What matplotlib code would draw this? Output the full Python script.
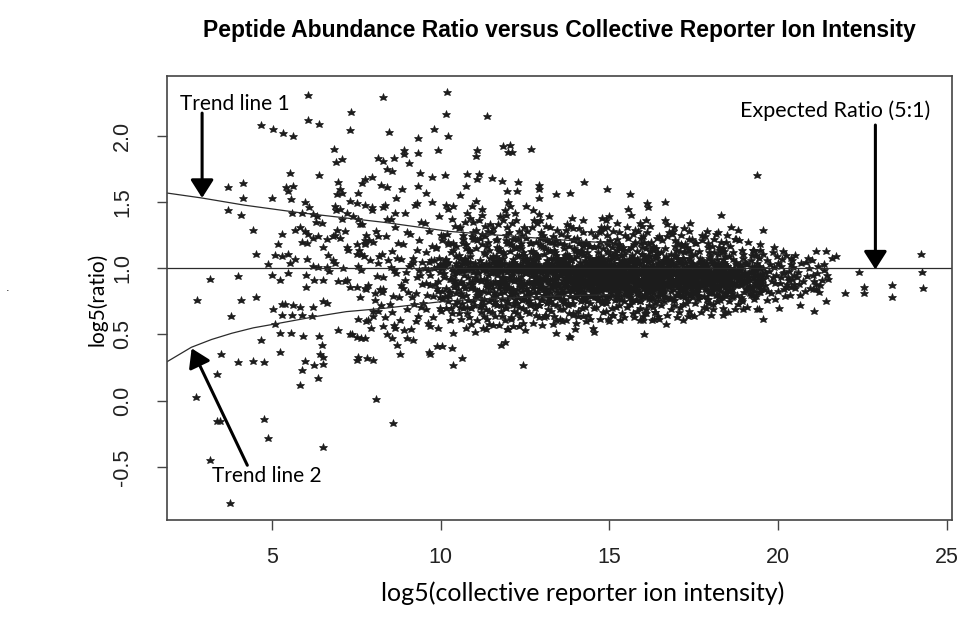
import numpy as np
import matplotlib.pyplot as plt

# fitted trend curves (upper and lower)
trend1_x = [1.89, 2.91, 4.20, 5.78, 8.35, 10.27, 13.53, 15.00]
trend1_y = [1.567, 1.530, 1.475, 1.420, 1.345, 1.277, 1.214, 1.190]
trend2_x = [1.89, 2.61, 3.21, 3.81, 4.45, 5.09, 6.27, 7.20, 8.35, 10.17, 11.56, 13.53, 15.00]
trend2_y = [0.294, 0.403, 0.462, 0.509, 0.550, 0.579, 0.634, 0.672, 0.698, 0.752, 0.773, 0.790, 0.800]

expected_ratio = 1.0

# sparse peptides, low intensity end
sparse_left = [
    (3.70, 1.61), (4.13, 1.64), (4.13, 1.53), (3.70, 1.44), (4.07, 1.40), (4.67, 2.08), (5.04, 2.05),
    (5.33, 2.02), (5.61, 2.00), (3.16, 0.92), (4.00, 0.94), (2.77, 0.76), (4.07, 0.76), (4.52, 0.78),
    (3.79, 0.64), (3.36, 0.20), (2.76, 0.03), (3.36, -0.15), (3.45, -0.15), (3.16, -0.45), (3.77, -0.77),
    (4.77, -0.14), (4.89, -0.28), (3.49, 0.35), (3.98, 0.29), (4.45, 0.30), (4.77, 0.29), (4.45, 1.29),
    (4.52, 1.11), (4.88, 1.03), (4.99, 0.95), (4.67, 0.46), (4.99, 1.53),
]

sparse_mid = [
    (6.08, 2.31), (7.33, 2.18), (6.08, 2.12), (6.39, 2.09), (7.31, 2.04), (6.85, 1.90), (6.89, 1.80),
    (7.09, 1.82), (5.53, 1.72), (6.39, 1.70), (5.41, 1.61), (5.63, 1.62), (5.48, 1.58), (5.56, 1.52),
    (5.98, 1.50), (6.09, 1.46), (5.58, 1.42), (5.88, 1.42), (6.96, 1.65), (7.01, 1.60), (6.94, 1.56),
    (7.09, 1.57), (7.66, 1.64), (7.75, 1.67), (7.95, 1.69), (8.15, 1.83), (8.30, 1.81), (7.56, 1.57),
    (7.31, 1.51), (7.51, 1.49), (6.90, 1.44), (6.22, 1.41), (6.30, 1.35), (6.47, 1.34), (7.75, 1.48),
    (7.95, 1.46), (7.56, 1.37), (8.30, 2.29), (6.32, 1.39), (6.87, 1.47), (7.01, 1.45), (7.21, 1.42),
    (7.41, 1.39), (7.07, 1.37), (6.92, 1.29), (6.82, 1.24), (7.16, 1.28), (7.61, 1.33), (7.80, 1.25),
    (8.00, 1.20), (7.21, 1.16), (7.51, 1.11), (7.75, 1.18), (6.52, 1.16), (6.67, 1.10), (6.82, 1.06),
    (6.22, 1.02), (6.62, 1.01), (7.16, 0.90), (7.51, 0.86), (7.80, 0.84), (8.10, 0.94), (8.30, 0.84),
    (5.29, 1.26), (5.19, 1.18), (5.67, 1.29), (5.83, 1.31), (5.98, 1.28), (6.08, 1.26), (5.08, 1.10),
    (5.31, 1.09), (5.53, 1.04), (5.67, 1.07), (6.05, 1.07), (5.88, 1.20), (6.03, 1.19), (6.22, 1.23),
    (6.37, 1.24), (6.62, 1.22), (5.47, 1.11), (5.24, 0.91), (5.47, 0.96), (6.00, 0.95), (6.37, 1.01),
    (6.70, 0.98), (6.25, 0.91), (6.52, 0.91), (6.01, 0.86), (5.04, 0.69), (5.29, 0.73), (5.39, 0.73),
    (5.63, 0.72), (5.83, 0.71), (5.29, 0.65), (5.58, 0.65), (5.88, 0.65), (6.22, 0.71), (6.52, 0.75),
    (6.62, 0.74), (6.18, 0.64), (5.08, 0.58), (5.24, 0.51), (5.56, 0.51), (5.91, 0.49), (6.39, 0.49),
    (5.24, 0.37), (6.47, 0.42), (6.42, 0.35), (6.52, 0.33), (5.98, 0.30), (6.25, 0.27), (6.52, 0.28),
    (5.88, 0.23), (5.83, 0.12), (6.35, 0.17), (6.52, -0.35), (8.07, 0.01), (8.59, -0.17),
    (6.87, 1.25), (7.01, 1.23), (7.26, 1.14), (7.51, 1.18), (7.65, 1.11), (7.75, 1.21), (7.90, 1.06),
    (8.15, 1.24), (8.25, 1.11), (6.87, 1.04), (7.11, 1.00), (6.96, 0.90), (7.21, 0.91), (7.31, 0.86),
    (7.75, 0.85), (8.05, 0.76), (7.56, 0.62), (7.85, 0.61), (8.00, 0.64), (7.36, 0.50), (7.65, 0.47),
    (8.20, 0.84), (8.15, 0.68), (6.96, 0.53), (7.31, 0.50), (7.51, 0.48), (7.75, 0.47), (7.56, 0.33),
    (7.81, 0.32), (7.53, 0.31), (8.00, 0.31),
]

sparse_upper = [
    (10.19, 2.33), (10.17, 2.16), (11.38, 2.15), (8.48, 2.03), (9.80, 2.05), (10.23, 2.00), (9.32, 1.98),
    (9.91, 1.89), (8.91, 1.89), (8.91, 1.86), (9.32, 1.87), (8.62, 1.83), (9.05, 1.79), (8.42, 1.75),
    (8.56, 1.73), (11.09, 1.89), (11.04, 1.85), (11.84, 1.92), (12.05, 1.93), (12.00, 1.88), (12.11, 1.88),
    (12.69, 1.90), (9.39, 1.72), (9.73, 1.69), (10.13, 1.70), (10.77, 1.71), (10.74, 1.62), (11.13, 1.71),
    (11.09, 1.67), (11.53, 1.68), (11.82, 1.66), (12.30, 1.65), (12.27, 1.58), (11.96, 1.58), (12.90, 1.63),
    (12.90, 1.60), (12.90, 1.53), (13.41, 1.56), (13.83, 1.57), (14.26, 1.65), (9.32, 1.62), (8.86, 1.60),
    (8.40, 1.61), (8.23, 1.63), (9.56, 1.57), (8.69, 1.53), (9.29, 1.49), (9.73, 1.50), (10.17, 1.48),
    (10.35, 1.47), (10.56, 1.55), (11.04, 1.51), (12.00, 1.50), (12.05, 1.47), (12.54, 1.47), (12.72, 1.44),
    (8.35, 1.48), (8.30, 1.46), (8.64, 1.42),
    (19.36, 1.70), (14.92, 1.60), (15.61, 1.56), (16.10, 1.49), (16.15, 1.46), (16.66, 1.50), (15.56, 1.45),
    (15.63, 1.40), (14.79, 1.38), (15.00, 1.39), (16.08, 1.36), (15.95, 1.32), (16.64, 1.36), (16.71, 1.33),
    (16.87, 1.28), (17.39, 1.34), (17.37, 1.28), (17.37, 1.22), (18.30, 1.40), (18.59, 1.31), (18.80, 1.29),
    (19.54, 1.29), (18.17, 1.26), (18.47, 1.25), (18.73, 1.22), (18.32, 1.20), (18.37, 1.15), (19.89, 1.16),
    (20.14, 1.13), (20.49, 1.10), (20.39, 1.08), (20.83, 1.05), (19.26, 1.14), (19.45, 1.14), (19.55, 1.11),
    (14.93, 1.31), (14.76, 1.28), (15.29, 1.27), (15.53, 1.31), (15.76, 1.20), (16.00, 1.24), (16.40, 1.23),
    (17.73, 1.21), (17.12, 1.18), (17.53, 1.19),
]

sparse_right = [
    (24.23, 1.11), (24.25, 0.97), (24.30, 0.85), (22.40, 0.97), (22.55, 0.86), (22.55, 0.81), (23.36, 0.87),
    (23.36, 0.78), (21.99, 0.81), (21.13, 1.13), (21.43, 1.13), (21.60, 1.08), (21.72, 1.09), (21.18, 1.02),
    (21.43, 0.75), (21.13, 0.84), (21.04, 0.84), (20.94, 0.85), (21.06, 0.68), (20.64, 0.72), (20.03, 0.70),
    (19.54, 0.62), (19.38, 0.69), (18.96, 0.69), (19.68, 0.76),
]

sparse_lower = [
    (18.35, 0.65), (18.51, 0.67), (17.85, 0.70), (17.50, 0.64), (17.19, 0.61), (16.69, 0.58), (16.47, 0.62),
    (16.25, 0.61), (15.92, 0.61), (16.02, 0.50), (14.52, 0.55), (14.55, 0.52), (13.98, 0.54), (13.81, 0.49),
    (13.41, 0.51), (13.13, 0.64), (13.53, 0.62), (13.58, 0.60), (13.93, 0.65), (14.22, 0.64), (15.71, 0.66),
    (16.05, 0.66), (16.35, 0.67), (15.11, 0.65), (12.45, 0.27), (10.37, 0.27), (10.62, 0.32), (8.79, 0.35),
    (9.66, 0.37), (9.68, 0.35), (10.32, 0.40), (11.80, 0.42), (11.90, 0.44), (9.88, 0.41), (10.03, 0.41),
    (8.40, 0.50), (8.55, 0.47), (8.70, 0.42), (9.00, 0.47), (9.19, 0.46), (8.30, 0.56), (8.64, 0.55),
    (9.13, 0.54), (9.68, 0.56), (10.37, 0.51), (12.51, 0.53), (13.83, 0.48), (11.26, 0.55), (11.54, 0.57),
    (11.96, 0.54), (12.15, 0.56),
]

# edges of the central cloud, above and below the dense band
fringe_11 = [
    (10.58, 1.31), (10.77, 1.42), (10.95, 1.27), (11.12, 1.36), (11.30, 1.24), (11.47, 1.33), (10.66, 1.22),
    (10.86, 1.38), (11.04, 1.29), (11.22, 1.45), (11.40, 1.20), (10.92, 1.47), (11.16, 1.23), (10.71, 1.35),
    (10.55, 0.66), (10.74, 0.55), (10.90, 0.70), (11.08, 0.61), (11.26, 0.73), (11.44, 0.58), (10.63, 0.74),
    (10.83, 0.63), (11.01, 0.52), (11.19, 0.67), (11.37, 0.62), (10.97, 0.75), (11.33, 0.54), (10.79, 0.71),
]
fringe_12 = [
    (11.56, 1.30), (11.75, 1.39), (11.93, 1.25), (12.11, 1.34), (12.29, 1.22), (12.46, 1.31), (11.65, 1.21),
    (11.84, 1.36), (12.03, 1.27), (12.21, 1.42), (12.39, 1.19), (11.90, 1.44), (12.15, 1.22), (11.70, 1.33),
    (11.53, 0.67), (11.72, 0.57), (11.90, 0.71), (12.07, 0.62), (12.25, 0.74), (12.43, 0.59), (11.62, 0.75),
    (11.81, 0.64), (12.00, 0.54), (12.18, 0.68), (12.36, 0.63), (11.96, 0.76), (12.32, 0.56), (11.78, 0.72),
]
fringe_13 = [
    (12.56, 1.28), (12.75, 1.36), (12.93, 1.23), (13.11, 1.32), (13.29, 1.20), (13.46, 1.29), (12.65, 1.19),
    (12.84, 1.34), (13.03, 1.25), (13.21, 1.39), (13.39, 1.18), (12.90, 1.41), (13.15, 1.21), (12.70, 1.31),
    (12.53, 0.68), (12.72, 0.59), (12.90, 0.72), (13.07, 0.63), (13.25, 0.75), (13.43, 0.61), (12.62, 0.76),
    (12.81, 0.65), (13.00, 0.57), (13.18, 0.69), (13.36, 0.64), (12.96, 0.77), (13.32, 0.58), (12.78, 0.73),
]
fringe_14 = [
    (13.56, 1.26), (13.75, 1.33), (13.93, 1.21), (14.11, 1.30), (14.29, 1.19), (14.46, 1.27), (13.65, 1.18),
    (13.84, 1.32), (14.03, 1.23), (14.21, 1.36), (14.39, 1.17), (13.90, 1.38), (14.15, 1.20), (13.70, 1.29),
    (13.53, 0.69), (13.72, 0.61), (13.90, 0.73), (14.07, 0.64), (14.25, 0.76), (14.43, 0.62), (13.62, 0.77),
    (13.81, 0.66), (14.00, 0.59), (14.18, 0.70), (14.36, 0.65), (13.96, 0.78), (14.32, 0.60), (13.78, 0.74),
]
fringe_15 = [
    (14.56, 1.24), (14.75, 1.31), (14.93, 1.20), (15.11, 1.28), (15.29, 1.18), (15.46, 1.25), (14.65, 1.17),
    (14.84, 1.30), (15.03, 1.21), (15.21, 1.34), (15.39, 1.16), (14.90, 1.36), (15.15, 1.19), (14.70, 1.27),
    (14.53, 0.70), (14.72, 0.62), (14.90, 0.74), (15.07, 0.65), (15.25, 0.77), (15.43, 0.63), (14.62, 0.78),
    (14.81, 0.67), (15.00, 0.60), (15.18, 0.71), (15.36, 0.66), (14.96, 0.79), (15.32, 0.61), (14.78, 0.75),
]
fringe_16 = [
    (15.56, 1.23), (15.75, 1.29), (15.93, 1.19), (16.11, 1.27), (16.29, 1.17), (16.46, 1.24), (15.65, 1.16),
    (15.84, 1.28), (16.03, 1.20), (16.21, 1.32), (16.39, 1.15), (15.90, 1.34), (16.15, 1.18), (15.70, 1.26),
    (15.53, 0.71), (15.72, 0.63), (15.90, 0.75), (16.07, 0.66), (16.25, 0.77), (16.43, 0.64), (15.62, 0.78),
    (15.81, 0.68), (16.00, 0.61), (16.18, 0.72), (16.36, 0.67), (15.96, 0.79), (16.32, 0.62), (15.78, 0.76),
]
fringe_17 = [
    (16.56, 1.21), (16.75, 1.27), (16.93, 1.17), (17.11, 1.25), (17.29, 1.16), (17.46, 1.22), (16.65, 1.15),
    (16.84, 1.26), (17.03, 1.19), (17.21, 1.30), (17.39, 1.14), (16.90, 1.31), (17.15, 1.17), (16.70, 1.24),
    (16.53, 0.72), (16.72, 0.65), (16.90, 0.76), (17.07, 0.67), (17.25, 0.78), (17.43, 0.65), (16.62, 0.79),
    (16.81, 0.69), (17.00, 0.63), (17.18, 0.73), (17.36, 0.68), (16.96, 0.80), (17.32, 0.64), (16.78, 0.77),
]
fringe_18 = [
    (17.56, 1.19), (17.75, 1.25), (17.93, 1.16), (18.11, 1.22), (18.29, 1.14), (18.46, 1.20), (17.65, 1.13),
    (17.84, 1.24), (18.03, 1.17), (18.21, 1.27), (18.39, 1.13), (17.90, 1.28),
    (17.53, 0.74), (17.72, 0.67), (17.90, 0.77), (18.07, 0.69), (18.25, 0.79), (18.43, 0.67), (17.62, 0.80),
    (17.81, 0.71), (18.00, 0.65), (18.18, 0.75), (18.36, 0.70), (17.96, 0.81),
]
fringe_19 = [
    (18.56, 1.17), (18.75, 1.22), (18.93, 1.14), (19.11, 1.20), (19.29, 1.13), (19.46, 1.18), (18.65, 1.12),
    (18.84, 1.21),
    (18.53, 0.75), (18.72, 0.69), (18.90, 0.78), (19.07, 0.71), (19.25, 0.80), (19.43, 0.69), (18.62, 0.81),
    (18.81, 0.73),
]

# central cloud, one list per unit of intensity
core_08 = [
    (7.54, 1.02), (7.89, 1.21), (8.22, 0.72), (8.45, 1.06), (7.67, 1.33), (8.04, 0.81), (8.38, 1.24), (7.79, 0.60),
    (8.13, 1.04), (7.60, 0.78), (7.96, 1.44), (8.30, 0.93), (7.72, 1.09), (8.49, 0.73), (8.09, 1.28), (7.84, 0.87),
    (8.34, 0.63), (7.57, 1.14), (8.18, 1.09), (7.92, 0.55), (8.42, 1.37), (7.64, 0.99), (8.27, 0.82), (8.00, 0.68),
    (7.75, 1.19),
]
core_09 = [
    (8.52, 1.01), (8.87, 1.18), (9.21, 0.73), (9.44, 1.05), (8.66, 1.31), (9.03, 0.82), (9.37, 1.21), (8.78, 0.61),
    (9.12, 1.03), (8.59, 0.79), (8.95, 1.42), (9.29, 0.93), (8.71, 1.08), (9.48, 0.74), (9.08, 1.26), (8.83, 0.87),
    (9.33, 0.64), (8.55, 1.13), (9.17, 1.08), (8.91, 0.53), (9.41, 1.35), (8.63, 0.99), (9.26, 0.81), (8.99, 0.69),
    (8.74, 1.19), (9.06, 1.02), (9.39, 0.95), (8.57, 0.67), (8.89, 0.85), (9.23, 1.48), (9.46, 0.88), (8.68, 0.96),
    (9.14, 0.78), (8.81, 1.07), (9.31, 1.14), (8.97, 0.97), (8.61, 0.57), (9.19, 1.05), (9.42, 0.71), (8.76, 0.78),
    (9.01, 1.27), (9.35, 0.99), (8.53, 1.37), (8.93, 0.91), (9.27, 0.60),
]
core_10 = [
    (9.52, 1.00), (9.87, 1.15), (10.21, 0.75), (10.44, 1.04), (9.66, 1.28), (10.03, 0.83), (10.37, 1.19), (9.78, 0.63),
    (10.12, 1.02), (9.59, 0.80), (9.95, 1.39), (10.29, 0.92), (9.71, 1.06), (10.48, 0.75), (10.08, 1.24), (9.83, 0.88),
    (10.33, 0.66), (9.55, 1.12), (10.17, 1.07), (9.91, 0.55), (10.41, 1.32), (9.63, 0.99), (10.26, 0.82), (9.99, 0.70),
    (9.74, 1.17), (10.06, 1.01), (10.39, 0.95), (9.57, 0.69), (9.89, 0.85), (10.23, 1.45), (10.46, 0.88), (9.68, 0.95),
    (10.14, 0.79), (9.81, 1.06), (10.31, 1.12), (9.97, 0.97), (9.61, 0.59), (10.19, 1.04), (10.42, 0.73), (9.76, 0.79),
    (10.01, 1.25), (10.35, 0.98), (9.53, 1.34), (9.93, 0.90), (10.27, 0.61), (9.69, 0.87), (10.10, 0.96), (10.45, 1.09),
    (9.85, 1.16), (10.15, 0.70), (9.64, 1.05), (10.38, 0.86), (9.98, 1.03), (10.22, 1.20), (9.79, 1.00), (10.49, 0.97),
    (9.56, 0.89), (10.04, 0.77), (10.32, 1.37), (9.88, 1.01),
    (9.93, 1.01), (10.15, 0.85), (10.36, 1.14), (9.98, 0.78), (10.21, 1.05), (10.43, 0.91), (10.04, 1.21), (10.28, 0.82),
    (10.48, 1.02), (10.09, 0.93), (10.31, 0.70), (9.95, 1.08), (10.18, 1.26), (10.40, 0.89), (10.01, 1.00), (10.25, 0.79),
    (10.46, 1.17), (10.07, 1.04), (10.30, 0.92), (9.91, 0.83), (10.13, 1.06), (10.34, 1.00), (10.00, 0.68), (10.23, 1.18),
    (10.45, 0.81),
]
core_11 = [
    (10.52, 0.99), (10.87, 1.13), (11.21, 0.76), (11.44, 1.03), (10.66, 1.25), (11.03, 0.84), (11.37, 1.17), (10.78, 0.66),
    (11.12, 1.01), (10.59, 0.81), (10.95, 1.35), (11.29, 0.92), (10.71, 1.05), (11.48, 0.77), (11.08, 1.21), (10.83, 0.89),
    (11.33, 0.69), (10.55, 1.10), (11.17, 1.06), (10.91, 0.58), (11.41, 1.28), (10.63, 0.98), (11.26, 0.83), (10.99, 0.72),
    (10.74, 1.15), (11.06, 1.00), (11.39, 0.95), (10.57, 0.71), (10.89, 0.85), (11.23, 1.40), (11.46, 0.88), (10.68, 0.95),
    (11.14, 0.80), (10.81, 1.05), (11.31, 1.11), (10.97, 0.97), (10.61, 0.62), (11.19, 1.03), (11.42, 0.75), (10.76, 0.80),
    (11.01, 1.22), (11.35, 0.98), (10.53, 1.30), (10.93, 0.90), (11.27, 0.64), (10.69, 0.87), (11.10, 0.96), (11.45, 1.08),
    (10.85, 1.14), (11.15, 0.71), (10.64, 1.04), (11.38, 0.86), (10.98, 1.02), (11.22, 1.18), (10.79, 0.99), (11.49, 0.96),
    (10.56, 0.89), (11.04, 0.78), (11.32, 1.32), (10.88, 1.00), (10.72, 1.08), (11.18, 0.90), (11.43, 0.68), (10.94, 1.24),
    (11.09, 0.83), (10.60, 1.00), (11.28, 1.02), (10.82, 0.76), (11.36, 0.88), (10.67, 1.19), (11.02, 0.93),
    (10.55, 1.00), (10.91, 0.86), (11.27, 1.12), (10.63, 0.79), (11.02, 1.04), (11.38, 0.91), (10.74, 1.18), (11.13, 0.83),
    (11.46, 1.01), (10.82, 0.93), (11.19, 0.72), (10.58, 1.07), (10.97, 1.22), (11.33, 0.89), (10.69, 0.99), (11.08, 0.80),
    (11.43, 1.14), (10.78, 1.03), (11.16, 0.92), (10.52, 0.84), (10.88, 1.05), (11.24, 0.99), (10.66, 0.70), (11.05, 1.15),
    (11.41, 0.82), (10.80, 1.00), (11.21, 1.26), (10.61, 0.90), (10.99, 1.01), (11.35, 1.04), (10.72, 0.85), (11.11, 0.97),
    (11.48, 0.88), (10.86, 1.09), (11.29, 0.77), (10.57, 1.02), (10.94, 0.88), (11.31, 1.00), (10.70, 1.06), (11.07, 0.91),
]
core_12 = [
    (11.52, 0.98), (11.87, 1.11), (12.21, 0.77), (12.44, 1.02), (11.66, 1.22), (12.03, 0.85), (12.37, 1.15), (11.78, 0.68),
    (12.12, 1.00), (11.59, 0.82), (11.95, 1.31), (12.29, 0.92), (11.71, 1.04), (12.48, 0.78), (12.08, 1.18), (11.83, 0.90),
    (12.33, 0.71), (11.55, 1.09), (12.17, 1.05), (11.91, 0.61), (12.41, 1.25), (11.63, 0.98), (12.26, 0.84), (11.99, 0.74),
    (11.74, 1.13), (12.06, 1.00), (12.39, 0.94), (11.57, 0.73), (11.89, 0.85), (12.23, 1.36), (12.46, 0.88), (11.68, 0.95),
    (12.14, 0.81), (11.81, 1.04), (12.31, 1.09), (11.97, 0.97), (11.61, 0.64), (12.19, 1.02), (12.42, 0.76), (11.76, 0.81),
    (12.01, 1.19), (12.35, 0.98), (11.53, 1.27), (11.93, 0.90), (12.27, 0.66), (11.69, 0.88), (12.10, 0.95), (12.45, 1.06),
    (11.85, 1.12), (12.15, 0.72), (11.64, 1.03), (12.38, 0.86), (11.98, 1.01), (12.22, 1.15), (11.79, 0.98), (12.49, 0.96),
    (11.56, 0.89), (12.04, 0.79), (12.32, 1.28), (11.88, 0.99), (11.72, 1.07), (12.18, 0.90), (12.43, 0.70), (11.94, 1.21),
    (12.09, 0.84), (11.60, 0.99), (12.28, 1.01), (11.82, 0.77), (12.36, 0.88), (11.67, 1.16), (12.02, 0.93), (12.47, 1.10),
    (11.75, 0.87), (12.24, 0.81), (11.92, 1.40), (12.13, 1.07), (11.58, 0.79), (12.40, 1.02), (11.86, 0.92), (12.07, 0.63),
    (11.70, 1.00), (12.34, 1.17), (11.96, 0.85), (12.20, 0.99), (11.54, 1.05),
    (11.55, 0.99), (11.91, 0.87), (12.27, 1.10), (11.63, 0.80), (12.02, 1.03), (12.38, 0.91), (11.74, 1.15), (12.13, 0.84),
    (12.46, 1.00), (11.82, 0.93), (12.19, 0.74), (11.58, 1.06), (11.97, 1.19), (12.33, 0.89), (11.69, 0.98), (12.08, 0.81),
    (12.43, 1.12), (11.78, 1.02), (12.16, 0.92), (11.52, 0.85), (11.88, 1.04), (12.24, 0.98), (11.66, 0.72), (12.05, 1.13),
    (12.41, 0.83), (11.80, 0.99), (12.21, 1.23), (11.61, 0.90), (11.99, 1.00), (12.35, 1.03), (11.72, 0.85), (12.11, 0.97),
    (12.48, 0.89), (11.86, 1.08), (12.29, 0.78), (11.57, 1.01), (11.94, 0.88), (12.31, 0.99), (11.70, 1.05), (12.07, 0.91),
    (12.45, 0.77), (11.84, 0.93), (12.18, 1.16), (11.54, 0.97), (11.92, 0.70), (12.26, 1.02), (11.64, 1.09), (12.03, 0.86),
    (12.39, 0.98), (11.76, 0.90), (12.14, 1.04), (12.49, 1.07), (11.89, 0.82), (12.23, 0.92), (11.60, 1.02),
]
core_13 = [
    (12.53, 0.97), (12.88, 1.09), (13.22, 0.78), (13.45, 1.01), (12.67, 1.19), (13.04, 0.86), (13.38, 1.12), (12.79, 0.70),
    (13.13, 0.99), (12.60, 0.83), (12.96, 1.27), (13.30, 0.92), (12.72, 1.03), (13.49, 0.80), (13.09, 1.15), (12.84, 0.90),
    (13.34, 0.73), (12.56, 1.07), (13.18, 1.04), (12.92, 0.63), (13.42, 1.21), (12.64, 0.97), (13.27, 0.85), (13.00, 0.76),
    (12.75, 1.11), (13.07, 0.99), (13.40, 0.94), (12.58, 0.75), (12.90, 0.85), (13.24, 1.31), (13.47, 0.88), (12.69, 0.94),
    (13.15, 0.82), (12.82, 1.03), (13.32, 1.07), (12.98, 0.96), (12.62, 0.66), (13.20, 1.01), (13.43, 0.78), (12.77, 0.82),
    (13.02, 1.16), (13.36, 0.97), (12.54, 1.23), (12.94, 0.90), (13.28, 0.68), (12.70, 0.88), (13.11, 0.94), (13.46, 1.04),
    (12.86, 1.10), (13.16, 0.74), (12.65, 1.02), (13.39, 0.86), (12.99, 1.00), (13.23, 1.13), (12.80, 0.97), (13.50, 0.95),
    (12.57, 0.89), (13.05, 0.80), (13.33, 1.24), (12.89, 0.98), (12.73, 1.06), (13.19, 0.90), (13.44, 0.72), (12.95, 1.18),
    (13.10, 0.84), (12.61, 0.98), (13.29, 1.00), (12.83, 0.78), (13.37, 0.88), (12.68, 1.13), (13.03, 0.93), (13.48, 1.08),
    (12.76, 0.87), (13.25, 0.82), (12.93, 1.36), (13.14, 1.06), (12.59, 0.80), (13.41, 1.01), (12.87, 0.92), (13.08, 0.65),
    (12.71, 0.99), (13.35, 1.14), (12.97, 0.85), (13.21, 0.98), (12.55, 1.04), (12.81, 1.20), (13.31, 0.87), (13.06, 1.02),
    (12.66, 0.72), (13.45, 0.93), (12.91, 0.99),
    (12.55, 0.98), (12.91, 0.87), (13.27, 1.08), (12.63, 0.81), (13.02, 1.02), (13.38, 0.91), (12.74, 1.13), (13.13, 0.84),
    (13.46, 0.99), (12.82, 0.93), (13.19, 0.75), (12.58, 1.05), (12.97, 1.17), (13.33, 0.89), (12.69, 0.97), (13.08, 0.82),
    (13.43, 1.10), (12.78, 1.01), (13.16, 0.92), (12.52, 0.85), (12.88, 1.03), (13.24, 0.97), (12.66, 0.74), (13.05, 1.11),
    (13.41, 0.83), (12.80, 0.98), (13.21, 1.20), (12.61, 0.90), (12.99, 0.99), (13.35, 1.02), (12.72, 0.85), (13.11, 0.96),
    (13.48, 0.89), (12.86, 1.07), (13.29, 0.79), (12.57, 1.00), (12.94, 0.88), (13.31, 0.98), (12.70, 1.04), (13.07, 0.91),
    (13.45, 0.78), (12.84, 0.93), (13.18, 1.14), (12.54, 0.96), (12.92, 0.72), (13.26, 1.01), (12.64, 1.08), (13.03, 0.86),
    (13.39, 0.97), (12.76, 0.90), (13.14, 1.03), (13.49, 1.06), (12.89, 0.82), (13.23, 0.92), (12.60, 1.01), (12.96, 1.00),
    (13.36, 0.87), (12.73, 0.96), (13.09, 1.22), (13.44, 0.94), (12.81, 1.10), (13.20, 0.88), (12.56, 0.80), (12.93, 0.92),
    (13.30, 1.04),
]
core_14 = [
    (13.52, 0.95), (13.87, 1.06), (14.21, 0.80), (14.44, 0.99), (13.66, 1.15), (14.03, 0.87), (14.37, 1.09), (13.78, 0.72),
    (14.12, 0.97), (13.59, 0.84), (13.95, 1.22), (14.29, 0.91), (13.71, 1.01), (14.48, 0.82), (14.08, 1.12), (13.83, 0.90),
    (14.33, 0.75), (13.55, 1.05), (14.17, 1.02), (13.91, 0.66), (14.41, 1.17), (13.63, 0.96), (14.26, 0.86), (13.99, 0.78),
    (13.74, 1.09), (14.06, 0.98), (14.39, 0.93), (13.57, 0.77), (13.89, 0.86), (14.23, 1.27), (14.46, 0.89), (13.68, 0.93),
    (14.14, 0.83), (13.81, 1.01), (14.31, 1.05), (13.97, 0.95), (13.61, 0.69), (14.19, 1.00), (14.42, 0.79), (13.76, 0.83),
    (14.01, 1.13), (14.35, 0.96), (13.53, 1.19), (13.93, 0.90), (14.27, 0.71), (13.69, 0.88), (14.10, 0.93), (14.45, 1.02),
    (13.85, 1.07), (14.15, 0.75), (13.64, 1.01), (14.38, 0.86), (13.98, 0.99), (14.22, 1.10), (13.79, 0.96), (14.49, 0.94),
    (13.56, 0.89), (14.04, 0.81), (14.32, 1.20), (13.88, 0.97), (13.72, 1.04), (14.18, 0.90), (14.43, 0.74), (13.94, 1.15),
    (14.09, 0.85), (13.60, 0.97), (14.28, 0.99), (13.82, 0.79), (14.36, 0.89), (13.67, 1.10), (14.02, 0.93), (14.47, 1.06),
    (13.75, 0.87), (14.24, 0.83), (13.92, 1.30), (14.13, 1.05), (13.58, 0.81), (14.40, 1.00), (13.86, 0.92), (14.07, 0.68),
    (13.70, 0.98), (14.34, 1.12), (13.96, 0.85), (14.20, 0.97), (13.54, 1.02), (13.80, 1.17), (14.30, 0.88), (14.05, 1.01),
    (13.65, 0.74), (14.44, 0.92), (13.90, 0.98), (14.16, 1.14), (13.77, 0.91), (14.25, 0.78), (14.00, 0.95), (13.62, 1.08),
    (14.38, 1.03), (13.84, 0.84), (14.11, 0.89), (13.73, 1.24), (14.46, 0.87), (13.95, 1.08), (14.19, 0.94), (13.57, 1.00),
    (14.33, 0.95),
    (13.55, 0.97), (13.91, 0.88), (14.27, 1.06), (13.63, 0.82), (14.02, 1.01), (14.38, 0.91), (13.74, 1.11), (14.13, 0.85),
    (14.46, 0.98), (13.82, 0.93), (14.19, 0.77), (13.58, 1.04), (13.97, 1.14), (14.33, 0.89), (13.69, 0.96), (14.08, 0.83),
    (14.43, 1.08), (13.78, 1.00), (14.16, 0.92), (13.52, 0.86), (13.88, 1.02), (14.24, 0.96), (13.66, 0.76), (14.05, 1.09),
    (14.41, 0.84), (13.80, 0.97), (14.21, 1.17), (13.61, 0.91), (13.99, 0.98), (14.35, 1.01), (13.72, 0.86), (14.11, 0.95),
    (14.48, 0.90), (13.86, 1.06), (14.29, 0.80), (13.57, 0.99), (13.94, 0.89), (14.31, 0.97), (13.70, 1.03), (14.07, 0.91),
    (14.45, 0.79), (13.84, 0.93), (14.18, 1.12), (13.54, 0.95), (13.92, 0.74), (14.26, 1.00), (13.64, 1.07), (14.03, 0.86),
    (14.39, 0.96), (13.76, 0.90), (14.14, 1.02), (14.49, 1.05), (13.89, 0.83), (14.23, 0.92), (13.60, 1.00), (13.96, 0.99),
    (14.36, 0.87), (13.73, 0.96), (14.09, 1.19), (14.44, 0.94), (13.81, 1.09), (14.20, 0.88), (13.56, 0.81), (13.93, 0.92),
    (14.30, 1.03), (13.68, 0.98), (14.04, 0.79), (14.40, 1.00), (13.77, 1.05), (14.12, 0.97), (14.47, 0.85),
]
core_15 = [
    (14.52, 0.93), (14.87, 1.02), (15.21, 0.81), (15.44, 0.97), (14.66, 1.12), (15.03, 0.88), (15.37, 1.06), (14.78, 0.74),
    (15.12, 0.95), (14.59, 0.85), (14.95, 1.18), (15.29, 0.91), (14.71, 0.99), (15.48, 0.83), (15.08, 1.09), (14.83, 0.90),
    (15.33, 0.77), (14.55, 1.04), (15.17, 1.01), (14.91, 0.68), (15.41, 1.14), (14.63, 0.95), (15.26, 0.87), (14.99, 0.79),
    (14.74, 1.07), (15.06, 0.97), (15.39, 0.92), (14.57, 0.78), (14.89, 0.86), (15.23, 1.22), (15.46, 0.89), (14.68, 0.92),
    (15.14, 0.84), (14.81, 1.00), (15.31, 1.03), (14.97, 0.94), (14.61, 0.71), (15.19, 0.99), (15.42, 0.80), (14.76, 0.83),
    (15.01, 1.11), (15.35, 0.95), (14.53, 1.16), (14.93, 0.90), (15.27, 0.72), (14.69, 0.88), (15.10, 0.92), (15.45, 1.01),
    (14.85, 1.05), (15.15, 0.76), (14.64, 1.00), (15.38, 0.86), (14.98, 0.98), (15.22, 1.08), (14.79, 0.95), (15.49, 0.93),
    (14.56, 0.89), (15.04, 0.82), (15.32, 1.17), (14.88, 0.96), (14.72, 1.03), (15.18, 0.90), (15.43, 0.75), (14.94, 1.13),
    (15.09, 0.86), (14.60, 0.96), (15.28, 0.98), (14.82, 0.80), (15.36, 0.89), (14.67, 1.08), (15.02, 0.93), (15.47, 1.05),
    (14.75, 0.87), (15.24, 0.84), (14.92, 1.25), (15.13, 1.04), (14.58, 0.82), (15.40, 0.99), (14.86, 0.92), (15.07, 0.70),
    (14.70, 0.97), (15.34, 1.10), (14.96, 0.85), (15.20, 0.96), (14.54, 1.00), (14.80, 1.15), (15.30, 0.88), (15.05, 1.00),
    (14.65, 0.76), (15.44, 0.91), (14.90, 0.97), (15.16, 1.12), (14.77, 0.91), (15.25, 0.79), (15.00, 0.94), (14.62, 1.06),
    (15.38, 1.02), (14.84, 0.84), (15.11, 0.89), (14.73, 1.20), (15.47, 0.87), (14.95, 1.07), (15.19, 0.93), (14.57, 0.99),
    (15.33, 0.94), (14.88, 0.77), (15.06, 1.03), (14.69, 0.93), (15.28, 1.15), (14.97, 0.62),
    (14.55, 0.96), (14.91, 0.88), (15.27, 1.04), (14.63, 0.83), (15.02, 1.00), (15.38, 0.91), (14.74, 1.09), (15.13, 0.86),
    (15.46, 0.97), (14.82, 0.93), (15.19, 0.79), (14.58, 1.03), (14.97, 1.12), (15.33, 0.89), (14.69, 0.95), (15.08, 0.84),
    (15.43, 1.06), (14.78, 0.99), (15.16, 0.92), (14.52, 0.87), (14.88, 1.01), (15.24, 0.95), (14.66, 0.78), (15.05, 1.07),
    (15.41, 0.85), (14.80, 0.96), (15.21, 1.14), (14.61, 0.91), (14.99, 0.97), (15.35, 1.00), (14.72, 0.87), (15.11, 0.94),
    (15.48, 0.90), (14.86, 1.05), (15.29, 0.82), (14.57, 0.98), (14.94, 0.89), (15.31, 0.96), (14.70, 1.02), (15.07, 0.91),
    (15.45, 0.81), (14.84, 0.93), (15.18, 1.10), (14.54, 0.94), (14.92, 0.76), (15.26, 0.99), (14.64, 1.06), (15.03, 0.86),
    (15.39, 0.95), (14.76, 0.90), (15.14, 1.01), (15.49, 1.04), (14.89, 0.84), (15.23, 0.91), (14.60, 1.00), (14.96, 0.98),
    (15.36, 0.87), (14.73, 0.95), (15.09, 1.16), (15.44, 0.93), (14.81, 1.08), (15.20, 0.88), (14.56, 0.82), (14.93, 0.92),
    (15.30, 1.02), (14.68, 0.97), (15.04, 0.80), (15.40, 0.99), (14.77, 1.04), (15.12, 0.96), (15.47, 0.86), (14.85, 0.90),
    (15.22, 0.97), (14.59, 1.08), (14.98, 1.03), (15.34, 0.93), (14.71, 0.85), (15.10, 0.90), (15.42, 1.11), (14.83, 0.99),
]
core_16 = [
    (15.53, 0.91), (15.88, 1.04), (16.22, 0.83), (16.45, 0.95), (15.67, 1.10), (16.04, 0.87), (16.38, 1.08), (15.79, 0.76),
    (16.13, 0.97), (15.60, 0.84), (15.96, 1.16), (16.30, 0.90), (15.72, 1.00), (16.49, 0.81), (16.09, 1.07), (15.84, 0.92),
    (16.34, 0.74), (15.56, 1.02), (16.18, 0.99), (15.92, 0.70), (16.42, 1.12), (15.64, 0.96), (16.27, 0.85), (16.00, 0.78),
    (15.75, 1.05), (16.07, 0.95), (16.40, 0.93), (15.58, 0.80), (15.90, 0.88), (16.24, 1.20), (16.47, 0.86), (15.69, 0.94),
    (16.15, 0.82), (15.82, 0.98), (16.32, 1.01), (15.98, 0.92), (15.62, 0.73), (16.20, 1.00), (16.43, 0.79), (15.77, 0.85),
    (16.02, 1.09), (16.36, 0.97), (15.54, 1.14), (15.94, 0.89), (16.28, 0.71), (15.70, 0.90), (16.11, 0.93), (16.46, 1.03),
    (15.86, 1.06), (16.16, 0.77), (15.65, 0.99), (16.39, 0.88), (15.99, 0.96), (16.23, 1.06), (15.80, 0.94), (16.50, 0.91),
    (15.57, 0.87), (16.05, 0.80), (16.33, 1.15), (15.89, 0.97), (15.73, 1.02), (16.19, 0.89), (16.44, 0.76), (15.95, 1.11),
    (16.10, 0.84), (15.61, 0.95), (16.29, 0.99), (15.83, 0.81), (16.37, 0.90), (15.68, 1.06), (16.03, 0.92), (16.48, 1.04),
    (15.76, 0.86), (16.25, 0.83), (15.93, 1.23), (16.14, 1.05), (15.59, 0.83), (16.41, 0.98), (15.87, 0.91), (16.08, 0.69),
    (15.71, 0.98), (16.35, 1.09), (15.97, 0.86), (16.21, 0.95), (15.55, 1.01), (15.81, 1.13), (16.31, 0.87), (16.06, 0.99),
    (15.66, 0.75), (16.45, 0.92), (15.91, 0.96), (16.17, 1.10), (15.78, 0.90), (16.26, 0.78), (16.01, 0.93), (15.63, 1.07),
    (16.39, 1.01), (15.85, 0.82), (16.12, 0.88), (15.74, 1.18), (16.48, 0.88), (15.96, 1.05), (16.20, 0.94), (15.58, 0.97),
    (16.34, 0.93), (15.89, 0.79), (16.07, 1.02), (15.70, 0.92), (16.29, 1.14), (15.98, 0.64),
    (15.55, 0.95), (15.91, 0.87), (16.27, 1.03), (15.63, 0.82), (16.02, 0.99), (16.38, 0.90), (15.74, 1.08), (16.13, 0.85),
    (16.46, 0.96), (15.82, 0.92), (16.19, 0.78), (15.58, 1.02), (15.97, 1.11), (16.33, 0.88), (15.69, 0.94), (16.08, 0.83),
    (16.43, 1.05), (15.78, 0.98), (16.16, 0.91), (15.52, 0.86), (15.88, 1.00), (16.24, 0.94), (15.66, 0.77), (16.05, 1.06),
    (16.41, 0.84), (15.80, 0.95), (16.21, 1.13), (15.61, 0.90), (15.99, 0.96), (16.35, 0.99), (15.72, 0.86), (16.11, 0.93),
    (16.48, 0.89), (15.86, 1.04), (16.29, 0.81), (15.57, 0.97), (15.94, 0.88), (16.31, 0.95), (15.70, 1.01), (16.07, 0.90),
    (16.45, 0.80), (15.84, 0.92), (16.18, 1.09), (15.54, 0.93), (15.92, 0.75), (16.26, 0.98), (15.64, 1.05), (16.03, 0.85),
    (16.39, 0.94), (15.76, 0.89), (16.14, 1.00), (16.49, 1.03), (15.89, 0.83), (16.23, 0.90), (15.60, 0.99), (15.96, 0.97),
    (16.36, 0.86), (15.73, 0.94), (16.09, 1.15), (16.44, 0.92), (15.81, 1.07), (16.20, 0.87), (15.56, 0.81), (15.93, 0.91),
    (16.30, 1.01), (15.68, 0.96), (16.04, 0.79), (16.40, 0.98), (15.77, 1.03), (16.12, 0.95), (16.47, 0.85), (15.85, 0.89),
    (16.22, 0.96), (15.59, 1.07), (15.98, 1.02), (16.34, 0.92), (15.71, 0.84), (16.10, 0.89), (16.42, 1.10), (15.83, 0.98),
]
core_17 = [
    (16.53, 0.92), (16.88, 1.03), (17.22, 0.84), (17.45, 0.95), (16.67, 1.09), (17.04, 0.88), (17.38, 1.06), (16.79, 0.78),
    (17.13, 0.96), (16.60, 0.86), (16.96, 1.14), (17.30, 0.91), (16.72, 0.99), (17.49, 0.83), (17.09, 1.05), (16.84, 0.92),
    (17.34, 0.76), (16.56, 1.01), (17.18, 0.98), (16.92, 0.72), (17.42, 1.10), (16.64, 0.95), (17.27, 0.86), (17.00, 0.80),
    (16.75, 1.04), (17.07, 0.94), (17.40, 0.93), (16.58, 0.81), (16.90, 0.88), (17.24, 1.18), (17.47, 0.87), (16.69, 0.93),
    (17.15, 0.84), (16.82, 0.98), (17.32, 1.00), (16.98, 0.92), (16.62, 0.75), (17.20, 0.99), (17.43, 0.80), (16.77, 0.86),
    (17.02, 1.07), (17.36, 0.96), (16.54, 1.12), (16.94, 0.90), (17.28, 0.74), (16.70, 0.89), (17.11, 0.93), (17.46, 1.02),
    (16.86, 1.05), (17.16, 0.79), (16.65, 0.98), (17.39, 0.88), (16.99, 0.96), (17.23, 1.05), (16.80, 0.94), (17.50, 0.91),
    (16.57, 0.88), (17.05, 0.82), (17.33, 1.13), (16.89, 0.96), (16.73, 1.01), (17.19, 0.90), (17.44, 0.78), (16.95, 1.09),
    (17.10, 0.86), (16.61, 0.95), (17.29, 0.98), (16.83, 0.83), (17.37, 0.90), (16.68, 1.05), (17.03, 0.92), (17.48, 1.03),
    (16.76, 0.87), (17.25, 0.85), (16.93, 1.21), (17.14, 1.03), (16.59, 0.84), (17.41, 0.97), (16.87, 0.91), (17.08, 0.71),
    (16.71, 0.97), (17.35, 1.08), (16.97, 0.87), (17.21, 0.95), (16.55, 0.99), (16.81, 1.11), (17.31, 0.89), (17.06, 0.99),
    (16.66, 0.78), (17.45, 0.92), (16.91, 0.96), (17.17, 1.08), (16.78, 0.90), (17.26, 0.81), (17.01, 0.94), (16.63, 1.06),
    (16.55, 0.95), (16.91, 0.87), (17.27, 1.02), (16.63, 0.83), (17.02, 0.98), (17.38, 0.90), (16.74, 1.07), (17.13, 0.85),
    (17.46, 0.96), (16.82, 0.92), (17.19, 0.79), (16.58, 1.01), (16.97, 1.10), (17.33, 0.88), (16.69, 0.94), (17.08, 0.84),
    (17.43, 1.04), (16.78, 0.98), (17.16, 0.91), (16.52, 0.86), (16.88, 1.00), (17.24, 0.94), (16.66, 0.78), (17.05, 1.05),
    (17.41, 0.85), (16.80, 0.95), (17.21, 1.12), (16.61, 0.90), (16.99, 0.96), (17.35, 0.99), (16.72, 0.87), (17.11, 0.93),
    (17.48, 0.89), (16.86, 1.03), (17.29, 0.82), (16.57, 0.97), (16.94, 0.89), (17.31, 0.95), (16.70, 1.01), (17.07, 0.90),
    (17.45, 0.81), (16.84, 0.92), (17.18, 1.08), (16.54, 0.93), (16.92, 0.76), (17.26, 0.98), (16.64, 1.04), (17.03, 0.86),
    (17.39, 0.94), (16.76, 0.89), (17.14, 1.00), (17.49, 1.03), (16.89, 0.84), (17.23, 0.91), (16.60, 0.99), (16.96, 0.97),
    (17.36, 0.87), (16.73, 0.94), (17.09, 1.13), (17.44, 0.92), (16.81, 1.06), (17.20, 0.88), (16.56, 0.82), (16.93, 0.91),
    (17.30, 1.01), (16.68, 0.96), (17.04, 0.80), (17.40, 0.98), (16.77, 1.03), (17.12, 0.95), (17.47, 0.86), (16.85, 0.90),
    (17.22, 0.96), (16.59, 1.06), (16.98, 1.02),
]
core_18 = [
    (17.53, 0.93), (17.88, 1.02), (18.22, 0.85), (18.45, 0.96), (17.67, 1.08), (18.04, 0.89), (18.38, 1.05), (17.79, 0.79),
    (18.13, 0.97), (17.60, 0.87), (17.96, 1.12), (18.30, 0.92), (17.72, 0.99), (18.49, 0.84), (18.09, 1.04), (17.84, 0.93),
    (18.34, 0.78), (17.56, 1.01), (18.18, 0.98), (17.92, 0.74), (18.42, 1.09), (17.64, 0.95), (18.27, 0.87), (18.00, 0.81),
    (17.75, 1.04), (18.07, 0.94), (18.40, 0.93), (17.58, 0.82), (17.90, 0.89), (18.24, 1.16), (18.47, 0.88), (17.69, 0.93),
    (18.15, 0.85), (17.82, 0.98), (18.32, 1.00), (17.98, 0.92), (17.62, 0.77), (18.20, 0.99), (18.43, 0.81), (17.77, 0.87),
    (18.02, 1.06), (18.36, 0.96), (17.54, 1.11), (17.94, 0.91), (18.28, 0.76), (17.70, 0.90), (18.11, 0.94), (18.46, 1.01),
    (17.86, 1.04), (18.16, 0.80), (17.65, 0.98), (18.39, 0.89), (17.99, 0.96), (18.23, 1.04), (17.80, 0.94), (18.50, 0.92),
    (17.57, 0.89), (18.05, 0.83), (18.33, 1.12), (17.89, 0.96), (17.73, 1.01), (18.19, 0.91), (18.44, 0.79), (17.95, 1.08),
    (18.10, 0.87), (17.61, 0.95), (18.29, 0.98), (17.83, 0.84), (18.37, 0.91), (17.68, 1.05), (18.03, 0.93), (18.48, 1.02),
    (17.76, 0.88), (18.25, 0.86), (17.93, 1.19), (18.14, 1.02), (17.59, 0.85), (18.41, 0.97), (17.87, 0.92), (18.08, 0.73),
    (17.71, 0.97), (18.35, 1.07), (17.97, 0.88), (18.21, 0.95), (17.55, 0.99),
    (17.55, 0.95), (17.91, 0.88), (18.27, 1.02), (17.63, 0.84), (18.02, 0.98), (18.38, 0.90), (17.74, 1.06), (18.13, 0.86),
    (18.46, 0.96), (17.82, 0.92), (18.19, 0.80), (17.58, 1.00), (17.97, 1.09), (18.33, 0.88), (17.69, 0.94), (18.08, 0.85),
    (18.43, 1.03), (17.78, 0.98), (18.16, 0.91), (17.52, 0.87), (17.88, 1.00), (18.24, 0.94), (17.66, 0.79), (18.05, 1.04),
    (18.41, 0.86), (17.80, 0.95), (18.21, 1.11), (17.61, 0.90), (17.99, 0.96), (18.35, 0.99), (17.72, 0.87), (18.11, 0.93),
    (18.48, 0.89), (17.86, 1.03), (18.29, 0.83), (17.57, 0.97), (17.94, 0.89), (18.31, 0.95), (17.70, 1.01), (18.07, 0.91),
    (18.45, 0.82), (17.84, 0.92), (18.18, 1.07), (17.54, 0.93), (17.92, 0.77), (18.26, 0.98), (17.64, 1.04), (18.03, 0.86),
    (18.39, 0.94), (17.76, 0.89), (18.14, 1.00), (18.49, 1.02), (17.89, 0.84), (18.23, 0.91), (17.60, 0.99), (17.96, 0.97),
    (18.36, 0.87), (17.73, 0.94), (18.09, 1.12), (18.44, 0.92), (17.81, 1.05), (18.20, 0.88), (17.56, 0.83), (17.93, 0.91),
    (18.30, 1.01),
]
core_19 = [
    (18.53, 0.92), (18.88, 1.01), (19.22, 0.85), (19.45, 0.95), (18.67, 1.07), (19.04, 0.89), (19.38, 1.04), (18.79, 0.80),
    (19.13, 0.96), (18.60, 0.87), (18.96, 1.11), (19.30, 0.91), (18.72, 0.98), (19.49, 0.84), (19.09, 1.03), (18.84, 0.92),
    (19.34, 0.79), (18.56, 1.00), (19.18, 0.97), (18.92, 0.75), (19.42, 1.08), (18.64, 0.94), (19.27, 0.87), (19.00, 0.82),
    (18.75, 1.03), (19.07, 0.93), (19.40, 0.92), (18.58, 0.83), (18.90, 0.89), (19.24, 1.14), (19.47, 0.88), (18.69, 0.93),
    (19.15, 0.86), (18.82, 0.97), (19.32, 0.99), (18.98, 0.91), (18.62, 0.78), (19.20, 0.98), (19.43, 0.82), (18.77, 0.87),
    (19.02, 1.05), (19.36, 0.95), (18.54, 1.09), (18.94, 0.90), (19.28, 0.77), (18.70, 0.89), (19.11, 0.93), (19.46, 1.00),
    (18.86, 1.03), (19.16, 0.81), (18.65, 0.97), (19.39, 0.89), (18.99, 0.95), (19.23, 1.02), (18.80, 0.93), (19.50, 0.91),
    (18.57, 0.88), (19.05, 0.84), (19.33, 1.10), (18.89, 0.95),
    (18.55, 0.94), (18.91, 0.87), (19.27, 1.01), (18.63, 0.84), (19.02, 0.97), (19.38, 0.90), (18.74, 1.05), (19.13, 0.86),
    (19.46, 0.95), (18.82, 0.92), (19.19, 0.80), (18.58, 0.99), (18.97, 1.08), (19.33, 0.88), (18.69, 0.94), (19.08, 0.85),
    (19.43, 1.02), (18.78, 0.97), (19.16, 0.91), (18.52, 0.87), (18.88, 0.99), (19.24, 0.93), (18.66, 0.79), (19.05, 1.03),
    (19.41, 0.86), (18.80, 0.95), (19.21, 1.10), (18.61, 0.90), (18.99, 0.96), (19.35, 0.98), (18.72, 0.87), (19.11, 0.93),
    (19.48, 0.89), (18.86, 1.02), (19.29, 0.83), (18.57, 0.96), (18.94, 0.89), (19.31, 0.95), (18.70, 1.00), (19.07, 0.91),
    (19.45, 0.82), (18.84, 0.92), (19.18, 1.06), (18.54, 0.93), (18.92, 0.77),
]
core_20 = [
    (19.54, 0.92), (19.89, 1.01), (20.23, 0.86), (20.46, 0.95), (19.67, 1.06), (20.04, 0.89), (20.38, 1.03), (19.79, 0.81),
    (20.13, 0.96), (19.60, 0.87), (19.96, 1.09), (20.31, 0.91), (19.72, 0.98), (20.49, 0.85), (20.09, 1.02), (19.84, 0.93),
    (20.34, 0.80), (19.56, 1.00), (20.18, 0.97), (19.92, 0.77), (20.42, 1.06), (19.64, 0.94), (20.27, 0.88), (20.00, 0.83),
    (19.75, 1.03), (20.07, 0.93), (20.40, 0.92), (19.58, 0.84), (19.90, 0.89), (20.24, 1.10),
    (19.62, 0.97), (19.81, 0.90), (19.98, 1.04), (20.16, 0.84), (20.33, 0.98), (20.47, 0.88), (19.70, 0.83), (19.93, 0.95),
    (20.11, 1.07), (20.29, 0.93), (20.44, 1.01), (19.52, 0.96), (19.86, 1.12), (20.20, 0.79), (20.37, 0.86),
]
core_21 = [
    (20.56, 0.93), (20.91, 1.00), (21.25, 0.87), (21.44, 0.95), (20.68, 1.04), (21.06, 0.90), (21.37, 0.99), (20.79, 0.83),
    (21.14, 0.96), (20.62, 0.88), (21.00, 1.06), (21.30, 0.91),
    (20.59, 0.97), (20.74, 0.90), (20.88, 1.08), (21.03, 0.95), (21.21, 0.82), (21.35, 1.03), (20.84, 0.94), (21.11, 0.88),
    (20.65, 0.80), (21.48, 0.92),
]

x_ticks = [5, 10, 15, 20, 25]
y_ticks = [-0.5, 0.0, 0.5, 1.0, 1.5, 2.0]
y_tick_labels = ["-0.5", "0.0", "0.5", "1.0", "1.5", "2.0"]

peptides = np.array(
    sparse_left + sparse_mid + sparse_upper + sparse_right + sparse_lower
    + fringe_11 + fringe_12 + fringe_13 + fringe_14 + fringe_15
    + fringe_16 + fringe_17 + fringe_18 + fringe_19
    + core_08 + core_09 + core_10 + core_11 + core_12 + core_13 + core_14
    + core_15 + core_16 + core_17 + core_18 + core_19 + core_20 + core_21
)

ink = "#1c1c1c"
tick_font = ["Liberation Sans Narrow", "Liberation Sans", "DejaVu Sans"]
label_font = ["Lato", "DejaVu Sans"]

fig = plt.figure(figsize=(9.57, 6.22), dpi=100)
ax = fig.add_axes([167 / 957, 102 / 622, 785 / 957, 444 / 622])

ax.plot(peptides[:, 0], peptides[:, 1], linestyle="none", marker="*",
        markersize=6.2, markeredgewidth=0.5, color=ink)
ax.axhline(expected_ratio, color="#2b2b2b", lw=0.9)
ax.plot(trend1_x, trend1_y, color="#2b2b2b", lw=0.9)
ax.plot(trend2_x, trend2_y, color="#2b2b2b", lw=0.9)

ax.set_xlim(1.89, 25.15)
ax.set_ylim(-0.90, 2.45)
ax.set_xticks(x_ticks)
ax.set_yticks(y_ticks)
ax.set_yticklabels(y_tick_labels, rotation=90, va="center")
ax.tick_params(direction="out", length=7.5, width=1.0, color="#444444",
               labelsize=15.5, labelcolor="#222222")
ax.tick_params(axis="x", pad=12)
ax.tick_params(axis="y", pad=17)
for lab in ax.get_xticklabels() + ax.get_yticklabels():
    lab.set_family(tick_font)
for side in ax.spines.values():
    side.set_color("#444444")
    side.set_linewidth(1.2)

ax.set_xlabel("log5(collective reporter ion intensity)", family=label_font, fontsize=18)
ax.xaxis.set_label_coords(0.529, -0.164)
ax.xaxis.label.set_va("center")
ax.set_ylabel("log5(ratio)", family=label_font, fontsize=15)
ax.yaxis.set_label_coords(-0.089, 0.498)
ax.yaxis.label.set_va("center")

fig.text(559.5 / 957, 1 - 30 / 622,
         "Peptide Abundance Ratio versus Collective Reporter Ion Intensity",
         ha="center", va="center", fontsize=16.5, fontweight="bold",
         family=["Liberation Sans", "DejaVu Sans"])

# callouts
arrow = dict(arrowstyle="-|>,head_length=1.1,head_width=0.7", color="black",
             lw=2.2, shrinkA=0, shrinkB=0, mutation_scale=10)
ax.annotate("", xy=(2.93, 1.53), xytext=(2.93, 2.17), arrowprops=arrow)
ax.annotate("", xy=(22.88, 0.99), xytext=(22.88, 2.08), arrowprops=arrow)
ax.annotate("", xy=(2.62, 0.395), xytext=(4.27, -0.487), arrowprops=arrow)
ax.text(2.27, 2.24, "Trend line 1", ha="left", va="center", fontsize=15, family=label_font)
ax.text(18.87, 2.19, "Expected Ratio (5:1)", ha="left", va="center", fontsize=15.5, family=label_font)
ax.text(3.21, -0.57, "Trend line 2", ha="left", va="center", fontsize=15, family=label_font)

fig.text(8 / 957, 1 - 293 / 622, ".", fontsize=8, ha="center", va="bottom")

fig.savefig("out.png", dpi=100)
